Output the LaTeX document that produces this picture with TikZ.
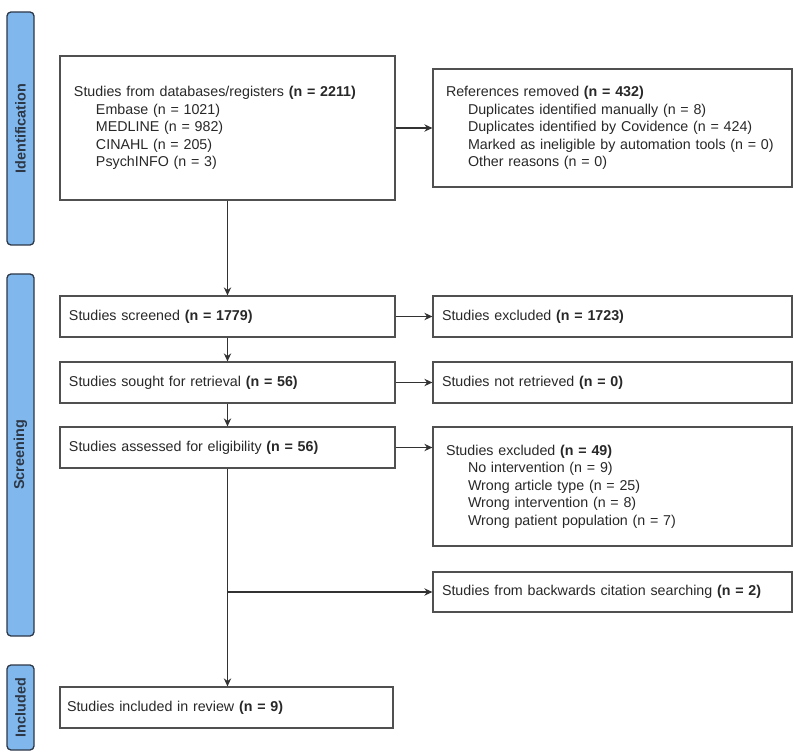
\documentclass[tikz,border=0pt]{standalone}
\usepackage{fontspec}
\setmainfont{Liberation Sans}
\usetikzlibrary{arrows.meta}

\definecolor{barblue}{RGB}{128,184,238}
\definecolor{barline}{RGB}{45,55,70}
\definecolor{boxline}{RGB}{80,80,80}
\definecolor{linkgray}{RGB}{50,50,50}
\definecolor{txtgray}{RGB}{40,40,40}

\tikzset{every picture/.style={line width=0.75pt}}
\tikzset{
  box/.style={draw=boxline, line width=0.9pt, fill=white, align=left, inner ysep=0pt,
    text=txtgray, font=\fontsize{10.7}{13.1}\selectfont},
  bar/.style={draw=barline, fill=barblue, line width=1pt, rounded corners=3pt, rotate=90,
    minimum height=20.25pt, inner sep=0pt, text=barline, font=\bfseries\fontsize{10.8}{12}\selectfont},
  link/.style={draw=linkgray, line width=1.1pt, -{Stealth[length=6pt,width=5.5pt]}}
}
\newcommand{\ind}{\hspace*{16.5pt}}

\begin{document}
\begin{tikzpicture}[x=0.75pt,y=0.75pt,yscale=-1]
\useasboundingbox (0,0) rectangle (794,756);

% phase bars on the left
\node[bar, minimum width=174.75pt] (idbar) at (20.5,128.5) {Identification};
\node[bar, minimum width=271.5pt] (scrbar) at (20.5,455) {Screening};
\node[bar, minimum width=63.75pt] (incbar) at (20.5,707.5) {Included};

% identification
\node[box, inner xsep=10.5pt, text width=230.25pt, minimum height=108pt] (dbs) at (227.5,128)
  {Studies from databases/registers \textbf{(n = 2211)}\\
   \ind Embase (n = 1021)\\
   \ind MEDLINE (n = 982)\\
   \ind CINAHL (n = 205)\\
   \ind PsychINFO (n = 3)};
\node[box, inner xsep=9.75pt, text width=249.75pt, minimum height=88.5pt] (removed) at (612.5,128)
  {References removed \textbf{(n = 432)}\\
   \ind Duplicates identified manually (n = 8)\\
   \ind Duplicates identified by Covidence (n = 424)\\
   \ind Marked as ineligible by automation tools (n = 0)\\
   \ind Other reasons (n = 0)};

% screening
\node[box, inner xsep=6.75pt, text width=237.75pt, minimum height=30.75pt] (screened) at (227.5,316.5)
  {Studies screened \textbf{(n = 1779)}};
\node[box, inner xsep=6.75pt, text width=237.75pt, minimum height=30.75pt] (sought) at (227.5,382.5)
  {Studies sought for retrieval \textbf{(n = 56)}};
\node[box, inner xsep=6.75pt, text width=237.75pt, minimum height=30.75pt] (assessed) at (227.5,447.5)
  {Studies assessed for eligibility \textbf{(n = 56)}};

\node[box, inner xsep=6.75pt, text width=255.75pt, minimum height=30.75pt] (excl) at (612.5,316.5)
  {Studies excluded \textbf{(n = 1723)}};
\node[box, inner xsep=6.75pt, text width=255.75pt, minimum height=30.75pt] (notret) at (612.5,382.5)
  {Studies not retrieved \textbf{(n = 0)}};
\node[box, inner xsep=9.75pt, text width=249.75pt, minimum height=89.25pt] (exclfull) at (612.5,486.5)
  {Studies excluded \textbf{(n = 49)}\\
   \ind No intervention (n = 9)\\
   \ind Wrong article type (n = 25)\\
   \ind Wrong intervention (n = 8)\\
   \ind Wrong patient population (n = 7)};
\node[box, inner xsep=6.75pt, text width=255.75pt, minimum height=30pt] (backw) at (612.5,592)
  {Studies from backwards citation searching \textbf{(n = 2)}};

% included
\node[box, inner xsep=5.25pt, text width=239.25pt, minimum height=30.75pt] (incl) at (226.5,707.5)
  {Studies included in review \textbf{(n = 9)}};

% connectors
\draw[link] (dbs.south) -- (screened.north);
\draw[link] (screened.south) -- (sought.north);
\draw[link] (sought.south) -- (assessed.north);
\draw[link] (assessed.south) -- (assessed.south |- incl.north);
\coordinate (branch) at (assessed.south |- backw.west);
\draw[link] (branch) -- (backw.west);

\draw[link] (dbs.east) -- (removed.west);
\draw[link] (screened.east) -- (excl.west);
\draw[link] (sought.east) -- (notret.west);
\draw[link] (assessed.east) -- (assessed.east -| exclfull.west);

\end{tikzpicture}
\end{document}
